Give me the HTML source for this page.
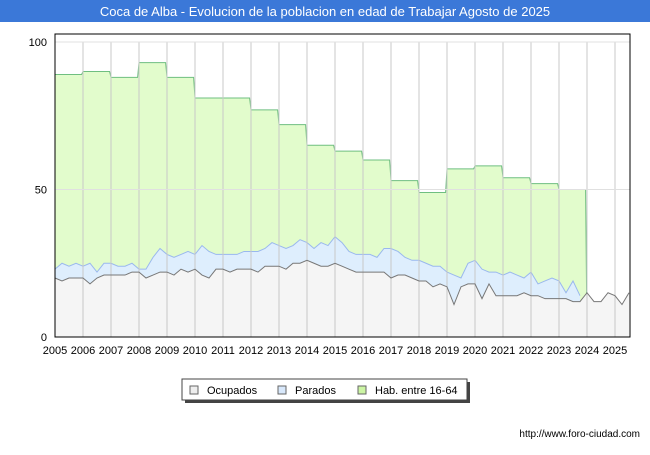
<!DOCTYPE html>
<html><head><meta charset="utf-8"><style>
body{margin:0;width:650px;height:450px;background:#fff;font-family:"Liberation Sans",sans-serif;overflow:hidden}
</style></head><body>
<svg id="c" width="650" height="450" xmlns="http://www.w3.org/2000/svg">
<rect x="0" y="0" width="650" height="22" fill="#3b78d8"/>
<text x="325" y="16" text-anchor="middle" fill="#fff" font-size="13">Coca de Alba - Evolucion de la poblacion en edad de Trabajar Agosto de 2025</text>
<g id="plot"></g>
<g>
<rect x="185" y="382" width="285" height="21" fill="#444"/>
<rect x="182" y="379" width="285" height="21" fill="#fff" stroke="#444"/>
<rect x="190" y="386" width="8" height="8" fill="#eee" stroke="#666"/>
<text x="207" y="394" font-size="11">Ocupados</text>
<rect x="278" y="386" width="8" height="8" fill="#d8e8fb" stroke="#666"/>
<text x="295" y="394" font-size="11">Parados</text>
<rect x="358" y="386" width="8" height="8" fill="#ccf5a4" stroke="#666"/>
<text x="375" y="394" font-size="11">Hab. entre 16-64</text>
</g>
<text x="640" y="437" text-anchor="end" font-size="10">http://www.foro-ciudad.com</text>
</svg>
<script>
const years=[2005,2006,2007,2008,2009,2010,2011,2012,2013,2014,2015,2016,2017,2018,2019,2020,2021,2022,2023,2024,2025];
const habValues=[89,90,88,93,88,81,81,77,72,65,63,60,53,49,57,58,54,52,50];
const ocupados=[20,19,20,20, 20,18,20,21, 21,21,21,22, 22,20,21,22, 22,21,23,22, 23,21,20,23, 23,22,23,23, 23,22,24,24, 24,23,25,25, 26,25,24,24, 25,24,23,22, 22,22,22,22, 20,21,21,20, 19,19,17,18, 17,11,17,18, 18,13,18,14, 14,14,14,15, 14,14,13,13, 13,13,12,12, 15,12,12,15, 14,11,15];
const parados=[3,6,4,5, 4,7,2,4, 4,3,3,3, 1,3,6,8, 6,6,5,7, 5,10,9,5, 5,6,5,6, 6,7,6,8, 7,7,6,8, 6,5,8,7, 9,8,6,6, 6,6,5,8, 10,8,6,6, 7,6,7,6, 5,10,3,7, 8,10,4,8, 7,8,7,5, 8,4,6,7, 6,2,7,2];
const yTicks=[0,50,100];
const X0=55,X1=630,Y0=337,Y1=42;
const xs=t=>X0+(t-2005)*28;
const ys=v=>Y0-(v/100)*(Y0-Y1);
const NS="http://www.w3.org/2000/svg";
const g=document.getElementById('plot');
function mk(tag,attrs){const el=document.createElementNS(NS,tag);for(const k in attrs)el.setAttribute(k,attrs[k]);g.appendChild(el);return el;}
let hp=[];
habValues.forEach((v,i)=>{hp.push([xs(years[i]),ys(v)]);hp.push([xs(years[i]+0.95),ys(v)]);});
const lastYear=years[habValues.length];
let pathD='M'+xs(2005)+','+Y0+' '+hp.map(p=>'L'+p[0]+','+p[1]).join(' ')+' L'+xs(lastYear)+','+Y0+'Z';
let el=mk('path',{d:pathD,fill:'#e2fccc'});


el=mk('path',{d:'M'+hp.map(p=>p[0]+','+p[1]).join(' L')+' L'+xs(lastYear)+','+Y0,fill:'none',stroke:'#6fbf80','stroke-width':1});


const tq=i=>2005+i/4;
const topPts=parados.map((p,i)=>[xs(tq(i)),ys(ocupados[i]+p)]);
const botPts=parados.map((p,i)=>[xs(tq(i)),ys(ocupados[i])]).reverse();
el=mk('path',{d:'M'+topPts.map(p=>p.join(',')).join(' L')+' L'+botPts.map(p=>p.join(',')).join(' L')+'Z',fill:'#deeefd'});


el=mk('path',{d:'M'+topPts.map(p=>p.join(',')).join(' L'),fill:'none',stroke:'#9ab8ee','stroke-width':1});


const op=ocupados.map((v,i)=>[xs(tq(i)),ys(v)]);
el=mk('path',{d:'M'+X0+','+Y0+' L'+op.map(p=>p.join(',')).join(' L')+' L'+op[op.length-1][0]+','+Y0+'Z',fill:'#f5f5f5'});


years.forEach(y=>{const l=mk('line',{x1:xs(y),x2:xs(y),y1:Y1,y2:Y0,stroke:'#c8c8c8','stroke-width':1});

});
yTicks.forEach(v=>{const l=mk('line',{x1:X0,x2:X1,y1:ys(v),y2:ys(v),stroke:'#e0e0e0','stroke-width':1});


const t=mk('text',{x:X0-8,y:ys(v)+4,'text-anchor':'end','font-size':11});t.textContent=v;

});
el=mk('path',{d:'M'+op.map(p=>p.join(',')).join(' L'),fill:'none',stroke:'#777','stroke-width':1});


years.forEach(y=>{const t=mk('text',{x:xs(y),y:354,'text-anchor':'middle','font-size':11});t.textContent=y;

});
el=mk('rect',{x:X0,y:34,width:X1-X0,height:Y0-34,fill:'none',stroke:'#000','stroke-width':1});


</script>
</body></html>
